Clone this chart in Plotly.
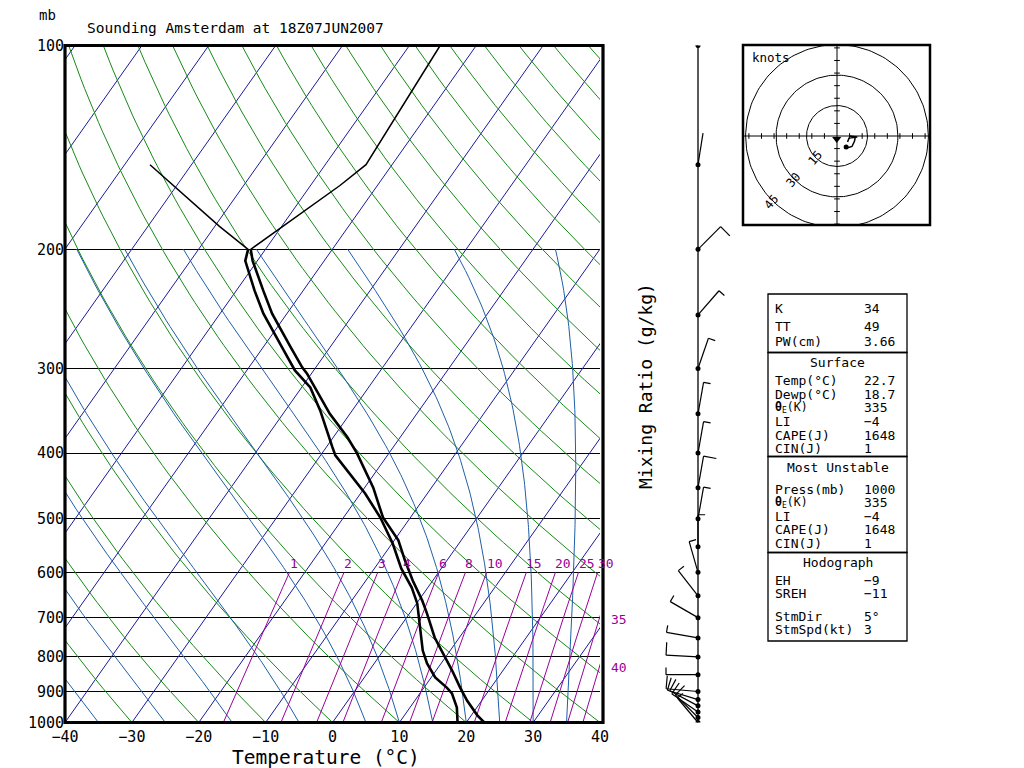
import numpy as np
import plotly.graph_objects as go

W, H = 1024, 768
PAGE_OFF = 8          # the page body margin shifts the figure by this many pixels
FONT = "DejaVu Sans Mono"

# ---------------- values ----------------
TITLE = "Sounding Amsterdam at 18Z07JUN2007"

# temperature profile (mb, degC)
temp_p = [1000, 976, 928, 888, 838, 791, 749, 690, 660, 617, 576, 538, 498, 450,
          400, 379, 350, 305, 299, 279, 249, 230, 208, 200, 161, 150, 100]
temp_c = [22.7, 20.9, 17.8, 15.4, 12.4, 9.2, 6.3, 2.6, 0.5, -3.0, -6.3, -9.4, -14.1, -18.7,
          -24.8, -27.9, -33.0, -40.7, -42.0, -45.9, -52.2, -56.0, -60.7, -62.2, -55.6, -53.9, -55.4]

# dewpoint profile (mb, degC)
dewp_p = [1000, 950, 906, 888, 858, 818, 783, 714, 667, 632, 592, 544, 498, 459,
          439, 403, 392, 346, 320, 302, 279, 249, 230, 208, 200, 185, 150]
dewp_c = [18.7, 17.0, 14.8, 13.4, 10.6, 7.9, 5.9, 2.6, 0.1, -2.4, -6.0, -9.9, -14.5, -19.3,
          -22.2, -27.8, -29.1, -34.8, -38.7, -42.8, -47.2, -53.5, -57.3, -61.8, -62.6, -69.3, -86.2]

# winds (mb, direction deg, speed kt)
wind_p = [1000, 983, 965, 945, 925, 900, 850, 800, 750, 700, 650, 600, 550, 500,
          450, 400, 350, 300, 250, 200, 150, 100]
wind_dir = [320, 315, 305, 298, 287, 275, 270, 273, 280, 300, 322, 344, 0, 10,
            10, 10, 10, 19, 41, 45, 9, 287]
wind_kt = [7, 8, 9, 9, 9, 9, 6, 10, 6, 6, 5, 5, 5, 5,
           9, 5, 5, 5, 5, 10, 2, 5]

isobars = [100, 200, 300, 400, 500, 600, 700, 800, 900, 1000]
temp_ticks = [-40, -30, -20, -10, 0, 10, 20, 30, 40]
isotherms = list(range(-110, 50, 10))
dry_adiabats = list(range(-40, 210, 10))                        # theta, degC
moist_adiabats = [-35, -25, -15, -5, 5, 10, 15, 20, 25, 30, 35]  # theta-w, degC
mixing_ratios = [1, 2, 3, 4, 6, 8, 10, 15, 20, 25, 30, 35, 40]   # g/kg

hodo_rings = [15, 30, 45]
storm_dir, storm_kt = 5, 3

THETA_E = "<b>θ</b><sub>E</sub>(K)"
stab_rows = [("K", "34"), ("TT", "49"), ("PW(cm)", "3.66")]
surf_rows = [("Temp(°C)", "22.7"), ("Dewp(°C)", "18.7"), (THETA_E, "335"),
             ("LI", "\u22124"), ("CAPE(J)", "1648"), ("CIN(J)", "1")]
mu_rows = [("Press(mb)", "1000"), (THETA_E, "335"), ("LI", "\u22124"),
           ("CAPE(J)", "1648"), ("CIN(J)", "1")]
hodo_rows = [("EH", "\u22129"), ("SREH", "\u221211"), ("StmDir", "5°"), ("StmSpd(kt)", "3")]

# ---------------- diagram geometry ----------------
SKEW = 71.5          # degC shift per decade of pressure
MR_SCALE = 1.07      # the chart's mixing-ratio lines sit slightly warm of textbook values
NAVY, GREEN, STEEL, PURPLE = "#1a1a9c", "#168a16", "#1f5fa8", "#990099"


def px(x):
    return (x - PAGE_OFF) / W


def py(y):
    return 1 - (y - PAGE_OFF) / H


def skew_x(t, p):
    return np.asarray(t, float) + SKEW * np.log10(1000.0 / np.asarray(p, float))


def mixing_td(w, p):
    e = MR_SCALE * w * p / (622.0 + MR_SCALE * w)
    a = np.log(e / 6.112)
    return 243.5 * a / (17.67 - a)


def moist_profile(t0, pres):
    def dtdp(t, p):
        es = 6.112 * np.exp(17.67 * (t - 273.15) / (t - 29.65))
        rs = 0.622 * es / (p - es)
        num = (287.04 * t + 2.501e6 * rs) / p
        den = 1005.7 + (2.501e6 ** 2 * rs * 0.622) / (287.04 * t * t)
        return num / den
    t = t0 + 273.15
    out = [t]
    for p0, p1 in zip(pres[:-1], pres[1:]):
        dp = p1 - p0
        k1 = dtdp(t, p0)
        k2 = dtdp(t + k1 * dp, p1)
        t = t + 0.5 * (k1 + k2) * dp
        out.append(t)
    return np.array(out) - 273.15


def line(x, y, color, width, xa="x", ya="y"):
    return go.Scatter(x=x, y=y, mode="lines", line=dict(color=color, width=width),
                      xaxis=xa, yaxis=ya, hoverinfo="skip", showlegend=False)


fig = go.Figure()

# isotherms
for t in isotherms:
    fig.add_trace(line(skew_x([t, t], [1000, 100]), [1000, 100], NAVY, 1))

# dry adiabats
p_dry = np.geomspace(1000, 100, 80)
for th in dry_adiabats:
    t = (th + 273.15) * (p_dry / 1000.0) ** 0.2857 - 273.15
    fig.add_trace(line(skew_x(t, p_dry), p_dry, GREEN, 1))

# moist adiabats
p_moist = np.linspace(1000, 200, 161)
for tw in moist_adiabats:
    t = moist_profile(tw, p_moist)
    fig.add_trace(line(skew_x(t, p_moist), p_moist, STEEL, 1))

# mixing ratio lines and labels
p_mr = np.linspace(1000, 600, 41)
annotations = []
for w in mixing_ratios:
    xs = skew_x(mixing_td(w, p_mr), p_mr)
    fig.add_trace(line(xs, p_mr, PURPLE, 1))
    if xs[-1] <= 40:
        annotations.append(dict(x=xs[-1], y=np.log10(600), xref="x", yref="y", text=str(w),
                                showarrow=False, xanchor="left", yanchor="middle",
                                xshift=-2, yshift=9, font=dict(family=FONT, size=13, color=PURPLE)))
    else:
        i = np.argmax(xs > 40)
        pe = np.interp(40, [xs[i - 1], xs[i]], [p_mr[i - 1], p_mr[i]])
        annotations.append(dict(x=1.0, y=np.log10(pe), xref="x domain", yref="y", text=str(w),
                                showarrow=False, xanchor="left", yanchor="middle",
                                xshift=9, yshift=-3, font=dict(family=FONT, size=13, color=PURPLE)))

# sounding: thick below 200 mb, thin above
for pp, tt in ((temp_p, temp_c), (dewp_p, dewp_c)):
    pp, tt = np.array(pp, float), np.array(tt, float)
    lo, hi = pp >= 200, pp <= 200
    fig.add_trace(line(skew_x(tt[lo], pp[lo]), pp[lo], "black", 2.6))
    fig.add_trace(line(skew_x(tt[hi], pp[hi]), pp[hi], "black", 1.5))

# ---------------- wind barbs (x2/y2: x in pixels) ----------------
BARB_X, STAFF, FEATHER, GAP = 698, 32, 13, 4
PX_DECADE = 677.0


def px_to_p(p, up):
    return p * 10 ** (-up / PX_DECADE)


bx, bp = [], []
for p, d, s in zip(wind_p, wind_dir, wind_kt):
    r = np.radians(d)
    ux, uy = np.sin(r), np.cos(r)
    fx, fy = np.sin(r + np.pi / 2), np.cos(r + np.pi / 2)
    bx += [BARB_X, BARB_X + STAFF * ux, None]
    bp += [p, px_to_p(p, STAFF * uy), None]
    spd = int(5 * round(s / 5.0))
    full, half = spd // 10, (spd % 10) // 5
    pos = STAFF
    for k in range(full + half):
        length = FEATHER if k < full else FEATHER * 0.55
        x0, y0 = BARB_X + pos * ux, pos * uy
        bx += [x0, x0 + length * fx, None]
        bp += [px_to_p(p, y0), px_to_p(p, y0 + length * fy), None]
        pos -= GAP

fig.add_trace(line([BARB_X, BARB_X], [1000, 100], "black", 1.3, "x2", "y2"))
fig.add_trace(line(bx, bp, "black", 1.2, "x2", "y2"))
fig.add_trace(go.Scatter(x=[BARB_X] * len(wind_p), y=wind_p, mode="markers",
                         marker=dict(color="black", size=5), xaxis="x2", yaxis="y2",
                         hoverinfo="skip", showlegend=False))

# ---------------- hodograph (x3/y3 in knots) ----------------
HX0, HX1, HY0, HY1 = 743, 930, 45, 225
HCX, HCY, KT_PX, TICK_KT = 837, 136, 2.03, 6.2
hx_range = [(HX0 - HCX) / KT_PX, (HX1 - HCX) / KT_PX]
hy_range = [-(HY1 - HCY) / KT_PX, (HCY - HY0) / KT_PX]

ang = np.linspace(0, 2 * np.pi, 181)
for r in hodo_rings:
    fig.add_trace(line(r * np.cos(ang), r * np.sin(ang), "black", 1, "x3", "y3"))
    annotations.append(dict(x=-r * 0.72, y=-r * 0.72, xref="x3", yref="y3", text=str(r),
                            showarrow=False, textangle=-50,
                            font=dict(family=FONT, size=12, color="black")))

tx, ty = [hx_range[0], hx_range[1], None, 0, 0, None], [0, 0, None, hy_range[0], hy_range[1], None]
for k in range(-8, 9):
    if k == 0:
        continue
    v = k * TICK_KT
    if hx_range[0] < v < hx_range[1]:
        tx += [v, v, None]
        ty += [-1.4, 1.4, None]
    if hy_range[0] < v < hy_range[1]:
        tx += [-1.4, 1.4, None]
        ty += [v, v, None]
fig.add_trace(line(tx, ty, "black", 1, "x3", "y3"))

low = [i for i, p in enumerate(wind_p) if p >= 700]
hu = [-wind_kt[i] * np.sin(np.radians(wind_dir[i])) for i in low]
hv = [-wind_kt[i] * np.cos(np.radians(wind_dir[i])) for i in low]
fig.add_trace(line(hu, hv, "black", 1.5, "x3", "y3"))
fig.add_trace(go.Scatter(x=[hu[0]], y=[hv[0]], mode="markers", marker=dict(color="black", size=5),
                         xaxis="x3", yaxis="y3", hoverinfo="skip", showlegend=False))
su = -storm_kt * np.sin(np.radians(storm_dir))
sv = -storm_kt * np.cos(np.radians(storm_dir))
fig.add_trace(go.Scatter(x=[su * 0.5], y=[sv * 0.5], mode="markers",
                         marker=dict(color="black", size=8, symbol="triangle-down"),
                         xaxis="x3", yaxis="y3", hoverinfo="skip", showlegend=False))


# ---------------- text ----------------
def text(x, y, s, size=13, anchor="left", angle=0, color="black"):
    annotations.append(dict(x=px(x), y=py(y), xref="paper", yref="paper", text=s,
                            showarrow=False, xanchor=anchor, yanchor="middle", textangle=angle,
                            font=dict(family=FONT, size=size, color=color)))


text(85, 28, TITLE, 14.5)
text(47, 15, "mb", 14, "center")
text(326, 757.5, "Temperature (°C)", 19.5, "center")
text(645, 386, "Mixing Ratio (g/kg)", 18, "center", -90)
text(750, 57, "knots", 12.5)


def rows(items, ys):
    for (lab, val), y in zip(items, ys):
        text(LX, y, lab, 11.5 if lab == THETA_E else 13)
        text(VX, y, val)


# table
TL, TR, LX, VX = 768, 907, 773, 862
TC = (TL + TR) / 2
rows(stab_rows, [308, 327, 341])
text(TC, 362, "Surface", anchor="center")
rows(surf_rows, [381, 394.5, 407.5, 421.5, 435, 448.5])
text(TC, 467, "Most Unstable", anchor="center")
rows(mu_rows, [489, 502, 516, 529.5, 543])
text(TC, 562, "Hodograph", anchor="center")
rows(hodo_rows, [580, 593.5, 616, 629.5])

shapes = [
    dict(type="rect", xref="paper", yref="paper", x0=px(65), x1=px(603), y0=py(722.5), y1=py(45.5),
         line=dict(color="black", width=3.2), layer="above"),
    dict(type="rect", xref="paper", yref="paper", x0=px(HX0), x1=px(HX1), y0=py(HY1), y1=py(HY0),
         line=dict(color="black", width=2.5), layer="above"),
]
for y0, y1 in [(294, 352.5), (352.5, 456.5), (456.5, 552.5), (552.5, 641)]:
    shapes.append(dict(type="rect", xref="paper", yref="paper", x0=px(TL), x1=px(TR),
                       y0=py(y1), y1=py(y0), line=dict(color="black", width=1.3)))

hidden = dict(visible=False, showgrid=False, zeroline=False, automargin=False)
fig.update_layout(
    width=W, height=H, autosize=False,
    margin=dict(l=0, r=0, t=0, b=0, pad=0, autoexpand=False),
    paper_bgcolor="white", plot_bgcolor="white", showlegend=False,
    xaxis=dict(domain=[px(65), px(600)], range=[-40, 40], showgrid=False, zeroline=False,
               tickvals=temp_ticks, ticktext=[str(t).replace("-", "\u2212") for t in temp_ticks],
               ticks="", tickfont=dict(family=FONT, size=15, color="black"), showline=False,
               ticklabelstandoff=3, automargin=False),
    yaxis=dict(domain=[py(722.5), py(45.5)], type="log", range=[3, 2], tickvals=isobars,
               ticktext=[str(p) for p in isobars], ticks="", showgrid=True, gridcolor="black",
               gridwidth=1.3, zeroline=False, showline=False, automargin=False,
               tickfont=dict(family=FONT, size=15, color="black"), ticklabelstandoff=0),
    xaxis2=dict(domain=[px(620), px(760)], range=[620, 760], anchor="y2", **hidden),
    yaxis2=dict(domain=[py(722.5), py(45.5)], type="log", range=[3, 2], anchor="x2", **hidden),
    xaxis3=dict(domain=[px(HX0), px(HX1)], range=hx_range, anchor="y3", **hidden),
    yaxis3=dict(domain=[py(HY1), py(HY0)], range=hy_range, anchor="x3", **hidden),
    annotations=annotations, shapes=shapes,
)

fig.write_html("out.html")
